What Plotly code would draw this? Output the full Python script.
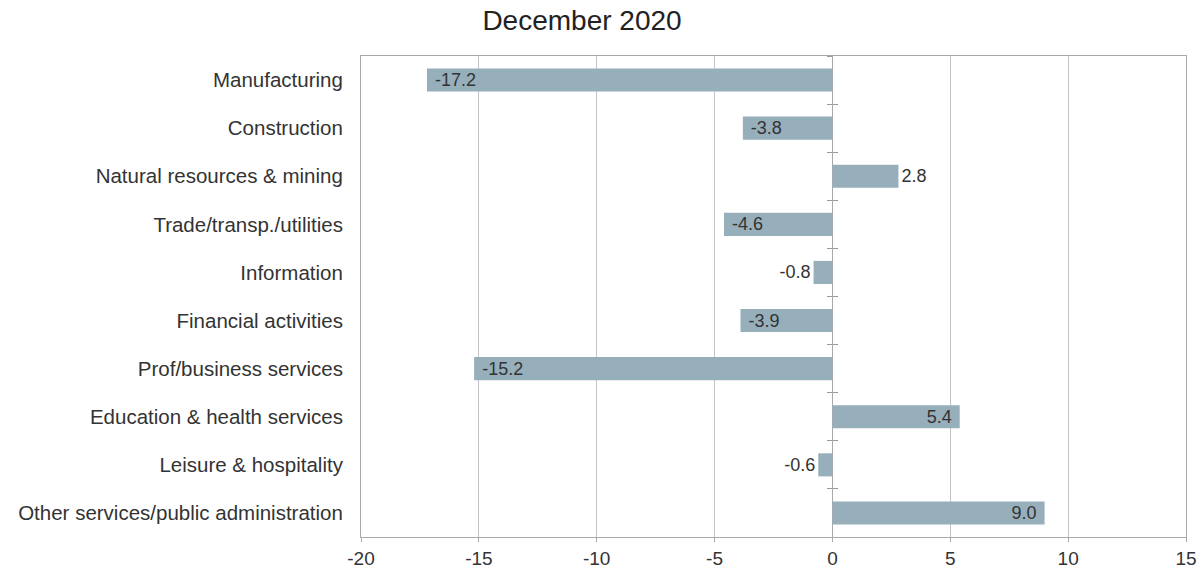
import plotly.graph_objects as go

categories = [
    "Manufacturing",
    "Construction",
    "Natural resources & mining",
    "Trade/transp./utilities",
    "Information",
    "Financial activities",
    "Prof/business services",
    "Education & health services",
    "Leisure & hospitality",
    "Other services/public administration",
]
values = [-17.2, -3.8, 2.8, -4.6, -0.8, -3.9, -15.2, 5.4, -0.6, 9.0]
label_positions = ["inside", "inside", "outside", "inside", "outside",
                   "inside", "inside", "inside", "outside", "inside"]
x_ticks = [-20, -15, -10, -5, 0, 5, 10, 15]
x_tick_text = ["-20", "-15", "-10", "-5", "0", "5", "10", "15"]

FONT = "Liberation Sans, Arial, sans-serif"
BAR = "#97aebb"
GRID = "#c4c4c4"
XMIN, XMAX = -20, 15
W, H = 1203, 580
NB = "\u00a0"

# value labels; inside labels get a little padding from the bar end
labels = []
for v, pos in zip(values, label_positions):
    s = f"{v:.1f}"
    if pos == "inside":
        s = NB + s if v < 0 else s + NB
    labels.append(s)

fig = go.Figure()
fig.add_trace(go.Bar(
    x=values, y=categories, orientation="h",
    marker=dict(color=BAR, line=dict(width=0)),
    text=labels,
    textposition=label_positions,
    insidetextanchor="end",
    constraintext="none",
    cliponaxis=False,
    textfont=dict(family=FONT, size=18, color="#333333"),
    hoverinfo="skip",
    showlegend=False,
))
# invisible helper traces so the zero-line tick axes share the categories
for ax in ("y2", "y3"):
    fig.add_trace(go.Scatter(
        x=[0] * len(categories), y=categories, yaxis=ax, mode="markers",
        marker=dict(opacity=0), hoverinfo="skip", showlegend=False,
    ))

zero_pos = (0 - XMIN) / (XMAX - XMIN)
n = len(categories)

fig.update_layout(
    width=W, height=H,
    margin=dict(l=361, r=17, t=56, b=43),
    paper_bgcolor="white", plot_bgcolor="white",
    bargap=0.52,
    font=dict(family=FONT, color="#333333"),
    title=dict(text="December 2020", x=582 / W, xanchor="center",
               y=1 - 20 / H, yanchor="middle",
               font=dict(family=FONT, size=28, color="#222222")),
    xaxis=dict(
        range=[XMIN, XMAX], tickvals=x_ticks, ticktext=x_tick_text,
        automargin=False,
        showgrid=True, gridcolor=GRID, gridwidth=1,
        zeroline=True, zerolinecolor="#aaaaaa", zerolinewidth=1,
        showline=True, linecolor="#aaaaaa", linewidth=1, mirror=True,
        ticks="outside", ticklen=4, tickcolor="#aaaaaa",
        tickfont=dict(family=FONT, size=19, color="#333333"),
        fixedrange=True,
    ),
    yaxis=dict(
        categoryorder="array", categoryarray=categories,
        range=[n - 0.5, -0.5], automargin=False,
        showgrid=False, zeroline=False,
        showline=True, linecolor="#aaaaaa", linewidth=1, mirror=True,
        ticks="", ticklabelstandoff=13,
        tickfont=dict(family=FONT, size=20.5, color="#333333"),
    ),
    yaxis2=dict(
        overlaying="y", matches="y", anchor="free", position=zero_pos,
        automargin=False,
        tickson="boundaries", ticks="outside", ticklen=5, tickcolor="#999999",
        showticklabels=False, showgrid=False, zeroline=False, showline=False,
    ),
    yaxis3=dict(
        overlaying="y", matches="y", anchor="free", position=zero_pos,
        automargin=False,
        tickson="boundaries", ticks="inside", ticklen=5, tickcolor="#999999",
        showticklabels=False, showgrid=False, zeroline=False, showline=False,
    ),
)

# remove the default page margin so the figure fills the 1203x580 window
fig.write_html(
    "out.html",
    config={"displayModeBar": False},
    post_script="document.body.style.margin='0';document.body.style.overflow='hidden';",
)
